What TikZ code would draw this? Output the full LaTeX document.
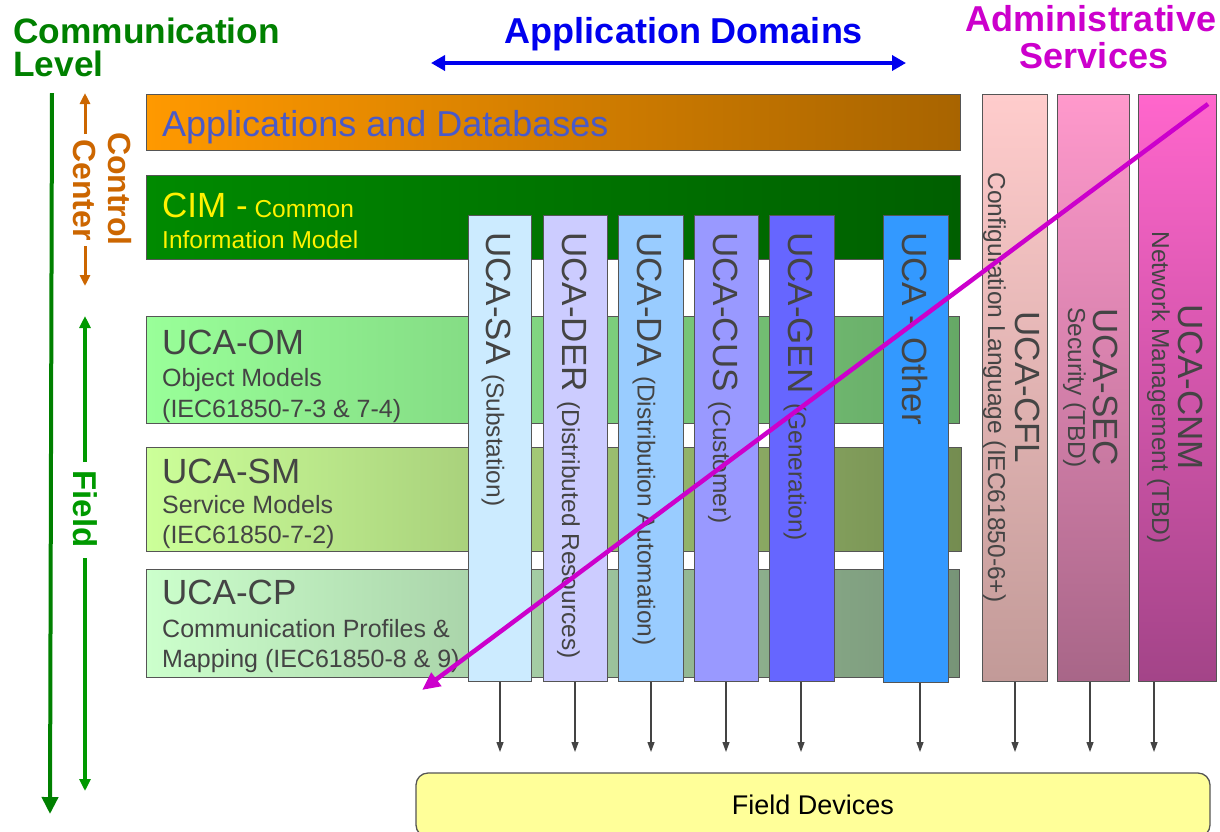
\documentclass[tikz,border=0pt]{standalone}
\usepackage{fontspec}
\setmainfont{Liberation Sans}
\usetikzlibrary{arrows.meta}
\newcommand\myfs[1]{\fontsize{#1}{#1}\selectfont}
\definecolor{bord}{HTML}{555555}
\definecolor{txt}{HTML}{444444}
\definecolor{appL}{HTML}{FF9900}
\definecolor{appR}{HTML}{A86400}
\definecolor{appT}{HTML}{4A5AC8}
\definecolor{cimL}{HTML}{008A00}
\definecolor{cimR}{HTML}{005F00}
\definecolor{omL}{HTML}{99FF99}
\definecolor{omR}{HTML}{66A866}
\definecolor{smL}{HTML}{CCFF99}
\definecolor{smR}{HTML}{748C50}
\definecolor{cpL}{HTML}{CCFFCC}
\definecolor{cpR}{HTML}{779477}
\definecolor{saC}{HTML}{CCEBFF}
\definecolor{derC}{HTML}{CCCCFF}
\definecolor{daC}{HTML}{99CCFF}
\definecolor{cusC}{HTML}{9999FF}
\definecolor{genC}{HTML}{6666FF}
\definecolor{othC}{HTML}{3399FF}
\definecolor{cflT}{HTML}{FFCCCC}
\definecolor{cflB}{HTML}{C29A98}
\definecolor{secT}{HTML}{FF99CC}
\definecolor{secB}{HTML}{A86688}
\definecolor{cnmT}{HTML}{FF66CC}
\definecolor{cnmB}{HTML}{A34488}
\definecolor{fdY}{HTML}{FFFF99}
\definecolor{lvlG}{HTML}{008000}
\definecolor{fldG}{HTML}{009900}
\definecolor{ccO}{HTML}{CC6600}
\definecolor{adM}{HTML}{CC00CC}
\definecolor{domB}{HTML}{0000EE}
\begin{document}
\begin{tikzpicture}[x=1pt,y=-1pt,
  box/.style={draw=bord, line width=1.3pt, inner sep=0pt, anchor=north west},
  coltext/.style={rotate=-90, anchor=base west, inner sep=0pt, text=txt},
  admtext/.style={rotate=-90, anchor=base, inner sep=0pt, text=txt},
  bandtext/.style={anchor=base west, inner sep=0pt, text=txt},
  headtext/.style={inner sep=0pt, font=\bfseries\myfs{35}},
  devarrow/.style={draw=txt, line width=1.2pt, -{Triangle[length=10pt,width=7pt]}}]
\useasboundingbox (0,0) rectangle (1220,831);
\clip (0,0) rectangle (1220,831);

% ---------- horizontal bands ----------
\node[box, left color=appL, right color=appR, minimum width=814pt, minimum height=56pt] (app) at (146,94) {};
\node[box, left color=cimL, right color=cimR, minimum width=814pt, minimum height=84pt] (cim) at (146,175) {};
\node[box, left color=omL, right color=omR, minimum width=813pt, minimum height=107pt] (om) at (146,316) {};
\node[box, left color=smL, right color=smR, minimum width=815pt, minimum height=104pt] (sm) at (146,447) {};
\node[box, left color=cpL, right color=cpR, minimum width=813pt, minimum height=108pt] (cp) at (146,569) {};

\node[bandtext, text=appT, font=\myfs{36}] (appT) at (162,136) {Applications and Databases};
\node[bandtext, text=yellow] (cimT1) at (162,217) {{\myfs{35}CIM -}{\myfs{24.5} Common}};
\node[bandtext, text=yellow, font=\myfs{24.5}] (cimT2) at (162,248) {Information Model};

\node[bandtext, font=\myfs{35}] (omT1) at (162,354) {UCA-OM};
\node[bandtext, font=\myfs{25}] (omT2) at (162,386) {Object Models};
\node[bandtext, font=\myfs{25}] (omT3) at (162,417) {(IEC61850-7-3 \& 7-4)};

\node[bandtext, font=\myfs{35}] (smT1) at (162,483) {UCA-SM};
\node[bandtext, font=\myfs{25}] (smT2) at (162,513) {Service Models};
\node[bandtext, font=\myfs{25}] (smT3) at (162,543) {(IEC61850-7-2)};

\node[bandtext, font=\myfs{35}] (cpT1) at (162,604) {UCA-CP};
\node[bandtext, font=\myfs{25}] (cpT2) at (162,637) {Communication Profiles \&};
\node[bandtext, font=\myfs{25}] (cpT3) at (162,667) {Mapping (IEC61850-8 \& 9)};

% ---------- application domain columns ----------
\node[box, fill=saC,  minimum width=63pt, minimum height=466pt] (sa)  at (468,215) {};
\node[box, fill=derC, minimum width=64pt, minimum height=466pt] (der) at (543,215) {};
\node[box, fill=daC,  minimum width=65pt, minimum height=466pt] (da)  at (618,215) {};
\node[box, fill=cusC, minimum width=64pt, minimum height=466pt] (cus) at (694,215) {};
\node[box, fill=genC, minimum width=65pt, minimum height=466pt] (gen) at (769,215) {};
\node[box, fill=othC, minimum width=65pt, minimum height=467pt] (oth) at (883,215) {};

\node[coltext] (saT)  at (486.5,232) {{\myfs{35}UCA-SA }{\myfs{24.5}(Substation)}};
\node[coltext] (derT) at (562,232)   {{\myfs{35}UCA-DER }{\myfs{24.5}(Distributed Resources)}};
\node[coltext] (daT)  at (637.5,232) {{\myfs{35}UCA-DA }{\myfs{24.5}(Distribution Automation)}};
\node[coltext] (cusT) at (713,232)   {{\myfs{35}UCA-CUS }{\myfs{24.5}(Customer)}};
\node[coltext] (genT) at (788.5,232) {{\myfs{35}UCA-GEN }{\myfs{24.5}(Generation)}};
\node[coltext] (othT) at (902.5,232) {{\myfs{35}UCA - Other}};

% ---------- administrative service columns ----------
\node[box, top color=cflT, bottom color=cflB, minimum width=65pt, minimum height=587pt] (cfl) at (982,94) {};
\node[box, top color=secT, bottom color=secB, minimum width=72pt, minimum height=587pt] (sec) at (1057,94) {};
\node[box, top color=cnmT, bottom color=cnmB, minimum width=78pt, minimum height=587pt] (cnm) at (1138,94) {};

\node[admtext, font=\myfs{35}] (cflT1) at (1015,387.5) {UCA-CFL};
\node[admtext, font=\myfs{24.5}] (cflT2) at (988,387.5) {Configuration Language (IEC61850-6+)};
\node[admtext, font=\myfs{35}] (secT1) at (1093,387.5) {UCA-SEC};
\node[admtext, font=\myfs{24.5}] (secT2) at (1068,387.5) {Security (TBD)};
\node[admtext, font=\myfs{35}] (cnmT1) at (1178,387.5) {UCA-CNM};
\node[admtext, font=\myfs{24.5}] (cnmT2) at (1152,387.5) {Network Management (TBD)};

% ---------- field devices ----------
\node[draw=bord, line width=1.3pt, fill=fdY, rounded corners=12pt, minimum width=794pt, minimum height=64pt, inner sep=0pt, font=\myfs{27}] (fd) at (813,805) {Field Devices};

\coordinate (saE)  at (500,752);
\coordinate (derE) at (575,752);
\coordinate (daE)  at (651,752);
\coordinate (cusE) at (726,752);
\coordinate (genE) at (801,752);
\coordinate (othE) at (920,752);
\coordinate (cflE) at (1015,752);
\coordinate (secE) at (1090,752);
\coordinate (cnmE) at (1154,752);
\draw[devarrow] (sa.south -| saE) -- (saE);
\draw[devarrow] (der.south -| derE) -- (derE);
\draw[devarrow] (da.south -| daE) -- (daE);
\draw[devarrow] (cus.south -| cusE) -- (cusE);
\draw[devarrow] (gen.south -| genE) -- (genE);
\draw[devarrow] (oth.south -| othE) -- (othE);
\draw[devarrow] (cfl.south -| cflE) -- (cflE);
\draw[devarrow] (sec.south -| secE) -- (secE);
\draw[devarrow] (cnm.south -| cnmE) -- (cnmE);

% ---------- headings ----------
\node[headtext, text=lvlG, anchor=base west, font=\bfseries\myfs{35.3}] (lvl1) at (13,43) {Communication};
\node[headtext, text=lvlG, anchor=base west, font=\bfseries\myfs{35.3}] (lvl2) at (13,76) {Level};
\node[headtext, text=domB, anchor=base, font=\bfseries\myfs{36}] (dom) at (684,43) {Application Domains};
\node[headtext, text=adM, anchor=base, font=\bfseries\myfs{36}] (adm1) at (1091,31) {Administrative};
\node[headtext, text=adM, anchor=base, font=\bfseries\myfs{36}] (adm2) at (1094,68) {Services};

\coordinate (bl1) at (431,63);
\coordinate (bl2) at (906,63);
\draw[domB, line width=4pt, {Triangle[length=14pt,width=15pt]}-{Triangle[length=14pt,width=15pt]}] (bl1) -- (bl2);

% ---------- left level arrows ----------
\coordinate (lv1) at (52,93);
\coordinate (lv2) at (50,814);
\draw[lvlG, line width=4pt, -{Triangle[length=17pt,width=16pt]}] (lv1) -- (lv2);

\coordinate (cc1) at (85,93);
\coordinate (cc2) at (85,134);
\coordinate (cc3) at (85,246);
\coordinate (cc4) at (85,286);
\draw[ccO, line width=3pt, -{Triangle[length=11pt,width=10pt]}] (cc2) -- (cc1);
\draw[ccO, line width=3pt, -{Triangle[length=11pt,width=10pt]}] (cc3) -- (cc4);
\node[rotate=-90, inner sep=0pt, text=ccO, font=\bfseries\myfs{32}] (ccA) at (120,189) {Control};
\node[rotate=-90, inner sep=0pt, text=ccO, font=\bfseries\myfs{32}] (ccB) at (85,190) {Center};

\coordinate (fl1) at (85,316);
\coordinate (fl2) at (85,462);
\coordinate (fl3) at (85,558);
\coordinate (fl4) at (85,791);
\draw[fldG, line width=3.5pt, -{Triangle[length=12pt,width=11pt]}] (fl2) -- (fl1);
\draw[fldG, line width=3.5pt, -{Triangle[length=12pt,width=11pt]}] (fl3) -- (fl4);
\node[rotate=-90, inner sep=0pt, text=fldG, font=\bfseries\myfs{33}] (fldT) at (85,509) {Field};

% ---------- magenta diagonal ----------
\coordinate (mg1) at (1208,104);
\coordinate (mg2) at (422,690);
\draw[adM, line width=4.5pt, -{Triangle[length=18pt,width=16pt]}] (mg1) -- (mg2);
\end{tikzpicture}
\end{document}
